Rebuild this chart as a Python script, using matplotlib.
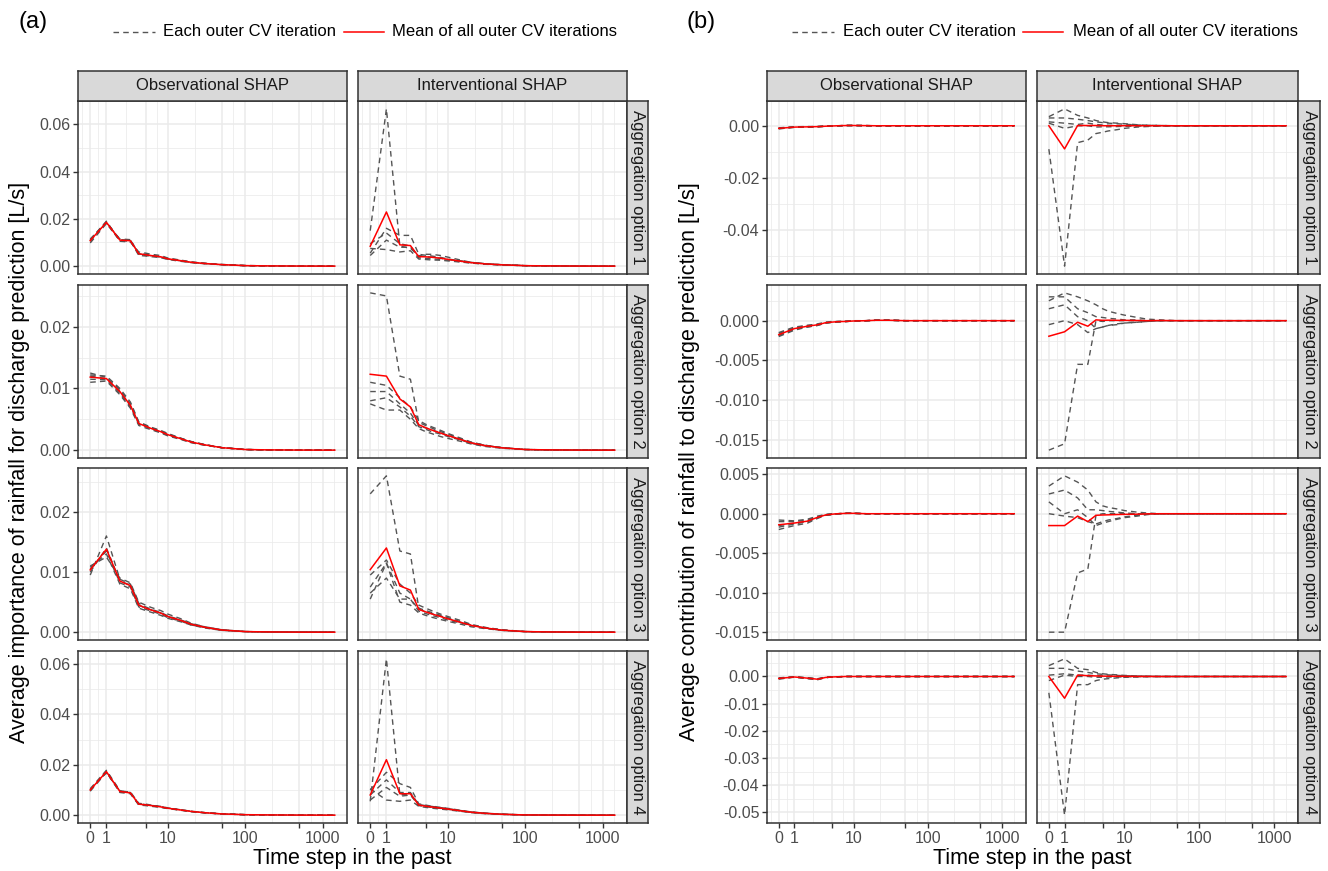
import numpy as np
import matplotlib
matplotlib.use("Agg")
import matplotlib.pyplot as plt
from matplotlib.lines import Line2D

plt.rcParams['font.family'] = ['Liberation Sans', 'DejaVu Sans']

# ---------------- data ----------------
LAGS = [0, 1, 2, 3, 4, 5, 6, 8, 10, 15, 20, 30, 50, 100, 200, 500, 1440]

X_BREAKS = [0, 1, 5, 10, 50, 100, 500, 1000]
X_LABELS = ["0", "1", "", "10", "", "100", "", "1000"]

COL_NAMES = ["Observational SHAP", "Interventional SHAP"]
ROW_NAMES = ["Aggregation option 1", "Aggregation option 2",
             "Aggregation option 3", "Aggregation option 4"]

# Panel (a): average importance, 5 outer CV iterations each
A1_OBS = [
    [0.0098, 0.0180, 0.0108, 0.0105, 0.0050, 0.0045, 0.0043, 0.0038, 0.0030, 0.0022, 0.0016, 0.0011, 0.0006, 0.0002, 0.0001, 0.00003, 0.0],
    [0.0105, 0.0185, 0.0110, 0.0110, 0.0055, 0.0050, 0.0046, 0.0040, 0.0032, 0.0024, 0.0017, 0.0012, 0.0007, 0.0002, 0.0001, 0.00003, 0.0],
    [0.0110, 0.0188, 0.0112, 0.0108, 0.0045, 0.0043, 0.0040, 0.0036, 0.0028, 0.0020, 0.0015, 0.0010, 0.0006, 0.0002, 0.0001, 0.00003, 0.0],
    [0.0112, 0.0190, 0.0105, 0.0102, 0.0060, 0.0055, 0.0050, 0.0045, 0.0034, 0.0025, 0.0018, 0.0012, 0.0007, 0.0003, 0.0001, 0.00003, 0.0],
    [0.0115, 0.0183, 0.0115, 0.0112, 0.0052, 0.0047, 0.0044, 0.0039, 0.0030, 0.0022, 0.0016, 0.0011, 0.0006, 0.0002, 0.0001, 0.00003, 0.0],
]
A1_INT = [
    [0.0150, 0.0665, 0.0085, 0.0075, 0.0045, 0.0040, 0.0038, 0.0033, 0.0028, 0.0020, 0.0015, 0.0010, 0.0006, 0.0002, 0.0001, 0.00003, 0.0],
    [0.0055, 0.0160, 0.0130, 0.0130, 0.0050, 0.0046, 0.0043, 0.0037, 0.0030, 0.0022, 0.0016, 0.0011, 0.0006, 0.0002, 0.0001, 0.00003, 0.0],
    [0.0095, 0.0140, 0.0095, 0.0085, 0.0035, 0.0033, 0.0031, 0.0028, 0.0025, 0.0018, 0.0014, 0.0009, 0.0005, 0.0002, 0.0001, 0.00003, 0.0],
    [0.0045, 0.0110, 0.0080, 0.0080, 0.0040, 0.0050, 0.0050, 0.0045, 0.0038, 0.0025, 0.0016, 0.0010, 0.0006, 0.0002, 0.0001, 0.00003, 0.0],
    [0.0075, 0.0070, 0.0060, 0.0065, 0.0030, 0.0028, 0.0026, 0.0025, 0.0022, 0.0017, 0.0013, 0.0008, 0.0005, 0.0002, 0.0001, 0.00003, 0.0],
]
A2_OBS = [
    [0.0125, 0.0118, 0.0098, 0.0075, 0.0045, 0.0040, 0.0036, 0.0031, 0.0026, 0.0019, 0.0014, 0.0009, 0.0004, 0.0001, 0.00004, 0.00001, 0.0],
    [0.0120, 0.0116, 0.0095, 0.0072, 0.0043, 0.0039, 0.0035, 0.0030, 0.0025, 0.0018, 0.0013, 0.0009, 0.0004, 0.0001, 0.00004, 0.00001, 0.0],
    [0.0115, 0.0114, 0.0092, 0.0070, 0.0042, 0.0038, 0.0034, 0.0029, 0.0024, 0.0018, 0.0013, 0.0008, 0.0004, 0.0001, 0.00004, 0.00001, 0.0],
    [0.0110, 0.0112, 0.0090, 0.0068, 0.0040, 0.0036, 0.0033, 0.0028, 0.0023, 0.0017, 0.0012, 0.0008, 0.0004, 0.0001, 0.00004, 0.00001, 0.0],
    [0.0122, 0.0120, 0.0100, 0.0078, 0.0046, 0.0041, 0.0037, 0.0032, 0.0027, 0.0019, 0.0014, 0.0009, 0.0004, 0.0001, 0.00004, 0.00001, 0.0],
]
A2_INT = [
    [0.0255, 0.0250, 0.0120, 0.0115, 0.0045, 0.0040, 0.0036, 0.0030, 0.0026, 0.0018, 0.0013, 0.0008, 0.0004, 0.0001, 0.00004, 0.00001, 0.0],
    [0.0110, 0.0105, 0.0085, 0.0070, 0.0048, 0.0042, 0.0038, 0.0032, 0.0027, 0.0019, 0.0013, 0.0008, 0.0004, 0.0001, 0.00004, 0.00001, 0.0],
    [0.0095, 0.0095, 0.0075, 0.0060, 0.0040, 0.0036, 0.0033, 0.0028, 0.0024, 0.0017, 0.0012, 0.0008, 0.0004, 0.0001, 0.00004, 0.00001, 0.0],
    [0.0080, 0.0085, 0.0070, 0.0055, 0.0038, 0.0034, 0.0030, 0.0026, 0.0022, 0.0016, 0.0011, 0.0007, 0.0004, 0.0001, 0.00004, 0.00001, 0.0],
    [0.0075, 0.0065, 0.0065, 0.0050, 0.0035, 0.0030, 0.0027, 0.0022, 0.0019, 0.0014, 0.0010, 0.0006, 0.0003, 0.0001, 0.00004, 0.00001, 0.0],
]
A3_OBS = [
    [0.0095, 0.0160, 0.0088, 0.0080, 0.0048, 0.0042, 0.0038, 0.0033, 0.0027, 0.0020, 0.0014, 0.0009, 0.0004, 0.0001, 0.00004, 0.00001, 0.0],
    [0.0100, 0.0140, 0.0085, 0.0078, 0.0045, 0.0040, 0.0037, 0.0032, 0.0026, 0.0019, 0.0013, 0.0008, 0.0004, 0.0001, 0.00004, 0.00001, 0.0],
    [0.0105, 0.0135, 0.0082, 0.0075, 0.0042, 0.0038, 0.0035, 0.0030, 0.0024, 0.0018, 0.0012, 0.0008, 0.0003, 0.0001, 0.00004, 0.00001, 0.0],
    [0.0108, 0.0130, 0.0080, 0.0072, 0.0040, 0.0036, 0.0033, 0.0028, 0.0023, 0.0017, 0.0012, 0.0007, 0.0003, 0.0001, 0.00004, 0.00001, 0.0],
    [0.0110, 0.0125, 0.0090, 0.0082, 0.0050, 0.0045, 0.0041, 0.0036, 0.0030, 0.0022, 0.0015, 0.0009, 0.0004, 0.0001, 0.00004, 0.00001, 0.0],
]
A3_INT = [
    [0.0230, 0.0260, 0.0135, 0.0130, 0.0040, 0.0036, 0.0033, 0.0028, 0.0024, 0.0017, 0.0012, 0.0008, 0.0004, 0.0001, 0.00004, 0.00001, 0.0],
    [0.0095, 0.0120, 0.0080, 0.0065, 0.0045, 0.0040, 0.0036, 0.0030, 0.0026, 0.0019, 0.0013, 0.0008, 0.0004, 0.0001, 0.00004, 0.00001, 0.0],
    [0.0075, 0.0115, 0.0065, 0.0055, 0.0038, 0.0034, 0.0031, 0.0027, 0.0023, 0.0016, 0.0012, 0.0007, 0.0003, 0.0001, 0.00004, 0.00001, 0.0],
    [0.0065, 0.0090, 0.0055, 0.0055, 0.0035, 0.0031, 0.0028, 0.0024, 0.0020, 0.0015, 0.0011, 0.0007, 0.0003, 0.0001, 0.00004, 0.00001, 0.0],
    [0.0055, 0.0115, 0.0050, 0.0045, 0.0032, 0.0028, 0.0025, 0.0021, 0.0018, 0.0013, 0.0009, 0.0006, 0.0003, 0.0001, 0.00004, 0.00001, 0.0],
]
A4_OBS = [
    [0.0095, 0.0170, 0.0092, 0.0088, 0.0042, 0.0040, 0.0037, 0.0032, 0.0027, 0.0020, 0.0015, 0.0010, 0.0005, 0.0002, 0.0001, 0.00003, 0.0],
    [0.0100, 0.0175, 0.0095, 0.0090, 0.0045, 0.0042, 0.0039, 0.0034, 0.0028, 0.0021, 0.0015, 0.0010, 0.0005, 0.0002, 0.0001, 0.00003, 0.0],
    [0.0105, 0.0178, 0.0098, 0.0086, 0.0040, 0.0038, 0.0035, 0.0031, 0.0026, 0.0019, 0.0014, 0.0009, 0.0005, 0.0002, 0.0001, 0.00003, 0.0],
    [0.0098, 0.0172, 0.0090, 0.0085, 0.0044, 0.0041, 0.0038, 0.0033, 0.0027, 0.0020, 0.0015, 0.0010, 0.0005, 0.0002, 0.0001, 0.00003, 0.0],
    [0.0102, 0.0168, 0.0096, 0.0092, 0.0047, 0.0044, 0.0040, 0.0035, 0.0029, 0.0021, 0.0016, 0.0010, 0.0005, 0.0002, 0.0001, 0.00003, 0.0],
]
A4_INT = [
    [0.0055, 0.0620, 0.0080, 0.0085, 0.0040, 0.0036, 0.0033, 0.0028, 0.0024, 0.0017, 0.0012, 0.0008, 0.0004, 0.0001, 0.00005, 0.00002, 0.0],
    [0.0100, 0.0170, 0.0125, 0.0110, 0.0045, 0.0040, 0.0036, 0.0031, 0.0027, 0.0019, 0.0013, 0.0008, 0.0004, 0.0001, 0.00005, 0.00002, 0.0],
    [0.0080, 0.0140, 0.0090, 0.0090, 0.0042, 0.0038, 0.0035, 0.0030, 0.0026, 0.0018, 0.0013, 0.0008, 0.0004, 0.0001, 0.00005, 0.00002, 0.0],
    [0.0060, 0.0110, 0.0075, 0.0080, 0.0038, 0.0034, 0.0031, 0.0027, 0.0023, 0.0016, 0.0011, 0.0007, 0.0003, 0.0001, 0.00005, 0.00002, 0.0],
    [0.0105, 0.0060, 0.0055, 0.0060, 0.0035, 0.0031, 0.0028, 0.0024, 0.0021, 0.0015, 0.0010, 0.0006, 0.0003, 0.0001, 0.00005, 0.00002, 0.0],
]

# Panel (b): average contribution
B1_OBS = [
    [-0.0012, -0.0006, -0.0005, -0.0004, -0.0002, -0.0001, 0.0, 0.0001, 0.0001, 0.00005, 0.0, 0.0, 0.0, 0.0, 0.0, 0.0, 0.0],
    [-0.0010, -0.0005, -0.0004, -0.0003, -0.0002, -0.0001, 0.0, 0.0001, 0.0001, 0.00005, 0.0, 0.0, 0.0, 0.0, 0.0, 0.0, 0.0],
    [-0.0008, -0.0004, -0.0003, -0.0003, -0.0001, 0.0, 0.0, 0.0001, 0.0001, 0.00005, 0.0, 0.0, 0.0, 0.0, 0.0, 0.0, 0.0],
    [-0.0011, -0.0006, -0.0005, -0.0004, -0.0002, -0.0001, 0.0, 0.0001, 0.0001, 0.00005, 0.0, 0.0, 0.0, 0.0, 0.0, 0.0, 0.0],
    [-0.0009, -0.0005, -0.0004, -0.0003, -0.0002, -0.0001, 0.0, 0.0001, 0.0001, 0.00005, 0.0, 0.0, 0.0, 0.0, 0.0, 0.0, 0.0],
]
B1_INT = [
    [-0.0090, -0.0540, -0.0065, -0.0055, -0.0030, -0.0025, -0.0020, -0.0015, -0.0010, -0.0005, -0.0003, -0.0001, 0.0, 0.0, 0.0, 0.0, 0.0],
    [0.0035, 0.0065, 0.0040, 0.0030, 0.0020, 0.0015, 0.0012, 0.0010, 0.0008, 0.0004, 0.0002, 0.0001, 0.0, 0.0, 0.0, 0.0, 0.0],
    [0.0030, 0.0030, 0.0025, 0.0020, 0.0015, 0.0012, 0.0010, 0.0008, 0.0006, 0.0003, 0.0002, 0.0001, 0.0, 0.0, 0.0, 0.0, 0.0],
    [0.0015, 0.0010, 0.0005, 0.0010, 0.0005, 0.0003, 0.0002, 0.0001, 0.0, 0.0, 0.0, 0.0, 0.0, 0.0, 0.0, 0.0, 0.0],
    [0.0010, -0.0010, 0.0000, 0.0000, -0.0005, -0.0004, -0.0004, -0.0003, -0.0002, -0.0001, 0.0, 0.0, 0.0, 0.0, 0.0, 0.0, 0.0],
]
B2_OBS = [
    [-0.0020, -0.0012, -0.0008, -0.0006, -0.0003, -0.0002, -0.00015, -0.0001, -0.00005, 0.0, 0.00005, 0.00005, 0.0, 0.0, 0.0, 0.0, 0.0],
    [-0.0018, -0.0010, -0.0007, -0.0005, -0.0003, -0.0002, -0.00015, -0.0001, -0.00005, 0.0, 0.00005, 0.00005, 0.0, 0.0, 0.0, 0.0, 0.0],
    [-0.0016, -0.0009, -0.0006, -0.0005, -0.0002, -0.0002, -0.0001, -0.0001, -0.00005, 0.0, 0.00005, 0.00005, 0.0, 0.0, 0.0, 0.0, 0.0],
    [-0.0015, -0.0008, -0.0006, -0.0004, -0.0002, -0.0001, -0.0001, -0.00005, 0.0, 0.0, 0.00005, 0.00005, 0.0, 0.0, 0.0, 0.0, 0.0],
    [-0.0019, -0.0011, -0.0008, -0.0006, -0.0003, -0.0002, -0.00015, -0.0001, -0.00005, 0.0, 0.00005, 0.00005, 0.0, 0.0, 0.0, 0.0, 0.0],
]
B2_INT = [
    [-0.0163, -0.0155, -0.0055, -0.0055, 0.0000, -0.0001, 0.0, 0.0, 0.0, 0.0, 0.0, 0.0, 0.0, 0.0, 0.0, 0.0, 0.0],
    [0.0025, 0.0035, 0.0030, 0.0025, 0.0020, 0.0015, 0.0012, 0.0009, 0.0007, 0.0004, 0.0002, 0.0001, 0.0, 0.0, 0.0, 0.0, 0.0],
    [0.0030, 0.0030, 0.0015, 0.0010, 0.0005, 0.0004, 0.0003, 0.0002, 0.0001, 0.0001, 0.0, 0.0, 0.0, 0.0, 0.0, 0.0, 0.0],
    [0.0015, 0.0020, 0.0005, 0.0000, -0.0010, -0.0008, -0.0006, -0.0004, -0.0003, -0.0002, -0.0001, 0.0, 0.0, 0.0, 0.0, 0.0, 0.0],
    [-0.0005, 0.0000, -0.0005, -0.0015, -0.0010, -0.0008, -0.0006, -0.0005, -0.0003, -0.0002, -0.0001, 0.0, 0.0, 0.0, 0.0, 0.0, 0.0],
]
B3_OBS = [
    [-0.0020, -0.0015, -0.0012, -0.0006, -0.0002, -0.0001, 0.0, 0.00005, 0.00005, 0.0, 0.0, 0.0, 0.0, 0.0, 0.0, 0.0, 0.0],
    [-0.0017, -0.0013, -0.0010, -0.0005, -0.0002, -0.0001, 0.0, 0.00005, 0.00005, 0.0, 0.0, 0.0, 0.0, 0.0, 0.0, 0.0, 0.0],
    [-0.0015, -0.0012, -0.0010, -0.0005, -0.0002, -0.0001, 0.0, 0.00005, 0.00005, 0.0, 0.0, 0.0, 0.0, 0.0, 0.0, 0.0, 0.0],
    [-0.0010, -0.0010, -0.0008, -0.0004, -0.0001, 0.0, 0.0, 0.00005, 0.00005, 0.0, 0.0, 0.0, 0.0, 0.0, 0.0, 0.0, 0.0],
    [-0.0008, -0.0009, -0.0007, -0.0003, -0.0001, 0.0, 0.0, 0.00005, 0.00005, 0.0, 0.0, 0.0, 0.0, 0.0, 0.0, 0.0, 0.0],
]
B3_INT = [
    [-0.0150, -0.0150, -0.0075, -0.0070, -0.0002, 0.0, 0.0, 0.0, 0.0, 0.0, 0.0, 0.0, 0.0, 0.0, 0.0, 0.0, 0.0],
    [0.0035, 0.0048, 0.0040, 0.0030, 0.0015, 0.0010, 0.0008, 0.0006, 0.0004, 0.0002, 0.0001, 0.0, 0.0, 0.0, 0.0, 0.0, 0.0],
    [0.0025, 0.0030, 0.0020, 0.0005, 0.0005, 0.0004, 0.0003, 0.0002, 0.0001, 0.0, 0.0, 0.0, 0.0, 0.0, 0.0, 0.0, 0.0],
    [0.0015, 0.0000, 0.0005, -0.0005, -0.0015, -0.0012, -0.0010, -0.0007, -0.0005, -0.0003, -0.0001, 0.0, 0.0, 0.0, 0.0, 0.0, 0.0],
    [0.0000, -0.0003, -0.0005, -0.0010, -0.0013, -0.0010, -0.0008, -0.0006, -0.0004, -0.0002, -0.0001, 0.0, 0.0, 0.0, 0.0, 0.0, 0.0],
]
B4_OBS = [
    [-0.0010, -0.0002, -0.0008, -0.0012, -0.0004, -0.0002, -0.0001, 0.0, 0.0, 0.0, 0.0, 0.0, 0.0, 0.0, 0.0, 0.0, 0.0],
    [-0.0008, -0.0001, -0.0006, -0.0010, -0.0004, -0.0002, -0.0001, 0.0, 0.0, 0.0, 0.0, 0.0, 0.0, 0.0, 0.0, 0.0, 0.0],
    [-0.0006, -0.0003, -0.0005, -0.0008, -0.0003, -0.0002, -0.0001, 0.0, 0.0, 0.0, 0.0, 0.0, 0.0, 0.0, 0.0, 0.0, 0.0],
    [-0.0007, -0.0002, -0.0007, -0.0011, -0.0004, -0.0002, -0.0001, 0.0, 0.0, 0.0, 0.0, 0.0, 0.0, 0.0, 0.0, 0.0, 0.0],
    [-0.0005, -0.0001, -0.0004, -0.0009, -0.0003, -0.0001, -0.0001, 0.0, 0.0, 0.0, 0.0, 0.0, 0.0, 0.0, 0.0, 0.0, 0.0],
]
B4_INT = [
    [-0.0060, -0.0510, -0.0030, -0.0030, -0.0015, -0.0010, -0.0008, -0.0005, -0.0003, -0.0002, -0.0001, 0.0, 0.0, 0.0, 0.0, 0.0, 0.0],
    [0.0040, 0.0065, 0.0030, 0.0025, 0.0015, 0.0010, 0.0008, 0.0006, 0.0004, 0.0002, 0.0001, 0.0, 0.0, 0.0, 0.0, 0.0, 0.0],
    [0.0030, 0.0030, 0.0020, 0.0015, 0.0010, 0.0008, 0.0006, 0.0004, 0.0003, 0.0001, 0.0001, 0.0, 0.0, 0.0, 0.0, 0.0, 0.0],
    [0.0005, 0.0010, 0.0005, 0.0005, 0.0003, 0.0002, 0.0001, 0.0001, 0.0, 0.0, 0.0, 0.0, 0.0, 0.0, 0.0, 0.0, 0.0],
    [-0.0015, 0.0005, 0.0000, 0.0000, -0.0003, -0.0003, -0.0002, -0.0002, -0.0001, 0.0, 0.0, 0.0, 0.0, 0.0, 0.0, 0.0, 0.0],
]

# y-axis breaks per row
A_YTICKS = [[0.0, 0.02, 0.04, 0.06], [0.0, 0.01, 0.02], [0.0, 0.01, 0.02], [0.0, 0.02, 0.04, 0.06]]
A_YLABELS = [["0.00", "0.02", "0.04", "0.06"], ["0.00", "0.01", "0.02"],
             ["0.00", "0.01", "0.02"], ["0.00", "0.02", "0.04", "0.06"]]
B_YTICKS = [[-0.04, -0.02, 0.0], [-0.015, -0.010, -0.005, 0.0],
            [-0.015, -0.010, -0.005, 0.0, 0.005], [-0.05, -0.04, -0.03, -0.02, -0.01, 0.0]]
B_YLABELS = [["-0.04", "-0.02", "0.00"], ["-0.015", "-0.010", "-0.005", "0.000"],
             ["-0.015", "-0.010", "-0.005", "0.000", "0.005"],
             ["-0.05", "-0.04", "-0.03", "-0.02", "-0.01", "0.00"]]

# ---------------- drawing ----------------
W, H = 1328, 871
fig = plt.figure(figsize=(W / 100, H / 100), dpi=100)

LN10 = np.log(10.0)
def fwd(x):
    return np.arcsinh(np.asarray(x, dtype=float) / 2.0) / LN10
def inv(y):
    return 2.0 * np.sinh(np.asarray(y, dtype=float) * LN10)

def fax(l, t, r, b):
    return fig.add_axes([l / W, 1 - b / H, (r - l) / W, (b - t) / H])

GRID = "#EBEBEB"
DARK = "#333333"
TICKC = "#4D4D4D"
DASHC = "#555555"

ROWS = [(101, 274), (285, 458), (468, 640), (651, 823)]
STRIP_TOP = (71, 101)

t_lo, t_hi = fwd(min(LAGS)), fwd(max(LAGS))
t_span = t_hi - t_lo
XLIM = (float(inv(t_lo - 0.05 * t_span)), float(inv(t_hi + 0.05 * t_span)))
tb = fwd(X_BREAKS)
x_minor = list(inv((tb[:-1] + tb[1:]) / 2)) + [float(inv(tb[0] - (tb[1] - tb[0]) / 2)),
                                              float(inv(tb[-1] + (tb[-1] - tb[-2]) / 2))]

def midpoints(ticks):
    t = np.array(ticks)
    d = t[1] - t[0]
    return list((t[:-1] + t[1:]) / 2) + [t[0] - d / 2, t[-1] + d / 2]

def draw_panel(cols, rstrip, data_rows, yticks, ylabels):
    for r, (top, bot) in enumerate(ROWS):
        allv = np.concatenate([np.ravel(d) for d in data_rows[r]])
        lo, hi = allv.min(), allv.max()
        sp = hi - lo
        ylim = (lo - 0.05 * sp, hi + 0.05 * sp)
        for c, (left, right) in enumerate(cols):
            ax = fax(left, top, right, bot)
            ax.set_xscale('function', functions=(fwd, inv))
            iters = np.array(data_rows[r][c])
            for it in iters:
                ax.plot(LAGS, it, color=DASHC, lw=1.0, ls=(0, (4, 3)), zorder=3)
            ax.plot(LAGS, iters.mean(axis=0), color="#FF0000", lw=1.1, zorder=4)
            ax.set_xlim(*XLIM)
            ax.set_ylim(*ylim)
            ax.set_xticks(X_BREAKS)
            ax.set_xticks(x_minor, minor=True)
            ax.set_yticks(yticks[r])
            ax.set_yticks(midpoints(yticks[r]), minor=True)
            ax.set_xticklabels(X_LABELS if r == 3 else [""] * len(X_BREAKS))
            ax.set_yticklabels(ylabels[r] if c == 0 else [""] * len(yticks[r]))
            ax.set_xlim(*XLIM)
            ax.set_ylim(*ylim)
            ax.grid(which='major', color=GRID, lw=1.1, zorder=0)
            ax.grid(which='minor', color=GRID, lw=0.55, zorder=0)
            ax.set_axisbelow(True)
            ax.tick_params(which='major', length=3.5, width=1.0, color=DARK,
                           labelsize=11.5, labelcolor=TICKC, pad=2)
            ax.tick_params(which='minor', length=0)
            if r != 3:
                ax.tick_params(axis='x', length=0)
            if c != 0:
                ax.tick_params(axis='y', length=0)
            for s in ax.spines.values():
                s.set_color(DARK)
                s.set_linewidth(1.1)
            if r == 0:
                sax = fax(left, STRIP_TOP[0], right, STRIP_TOP[1])
                sax.set_facecolor("#D9D9D9")
                sax.set_xticks([]); sax.set_yticks([])
                for s in sax.spines.values():
                    s.set_color(DARK); s.set_linewidth(1.1)
                sax.text(0.5, 0.5, COL_NAMES[c], ha='center', va='center',
                         fontsize=12, color="#1A1A1A", transform=sax.transAxes)
        sax = fax(rstrip[0], top, rstrip[1], bot)
        sax.set_facecolor("#D9D9D9")
        sax.set_xticks([]); sax.set_yticks([])
        for s in sax.spines.values():
            s.set_color(DARK); s.set_linewidth(1.1)
        sax.text(0.5, 0.5, ROW_NAMES[r], ha='center', va='center', rotation=-90,
                 fontsize=12, color="#1A1A1A", transform=sax.transAxes)

A_DATA = [[A1_OBS, A1_INT], [A2_OBS, A2_INT], [A3_OBS, A3_INT], [A4_OBS, A4_INT]]
B_DATA = [[B1_OBS, B1_INT], [B2_OBS, B2_INT], [B3_OBS, B3_INT], [B4_OBS, B4_INT]]

draw_panel([(78, 347), (358, 627)], (627, 648), A_DATA, A_YTICKS, A_YLABELS)
draw_panel([(767, 1026), (1037, 1298)], (1298, 1320), B_DATA, B_YTICKS, B_YLABELS)

def ftext(x, y, s, **kw):
    fig.text(x / W, 1 - y / H, s, **kw)

def fline(x0, x1, y, **kw):
    fig.add_artist(Line2D([x0 / W, x1 / W], [1 - y / H, 1 - y / H],
                          transform=fig.transFigure, **kw))

# axis titles
ftext(352.5, 858, "Time step in the past", ha='center', va='center', fontsize=15.5)
ftext(1032, 858, "Time step in the past", ha='center', va='center', fontsize=15.5)
ftext(20, 462, "Average importance of rainfall for discharge prediction [L/s]",
      ha='center', va='center', rotation=90, fontsize=15.5)
ftext(690, 462, "Average contribution of rainfall to discharge prediction [L/s]",
      ha='center', va='center', rotation=90, fontsize=15.5)

# tags
ftext(18, 22, "(a)", ha='left', va='center', fontsize=17)
ftext(686, 22, "(b)", ha='left', va='center', fontsize=17)

# legends
for (d0, d1, t1, r0, r1, t2) in [(113, 155, 163, 344, 384, 392),
                                 (792, 834, 843, 1023, 1063, 1073)]:
    fline(d0, d1, 32, color=DASHC, lw=1.0, ls=(0, (4, 3)))
    ftext(t1, 32, "Each outer CV iteration", ha='left', va='center', fontsize=12)
    fline(r0, r1, 32, color="#FF0000", lw=1.1)
    ftext(t2, 32, "Mean of all outer CV iterations", ha='left', va='center', fontsize=12)

fig.savefig("out.png", dpi=100)
